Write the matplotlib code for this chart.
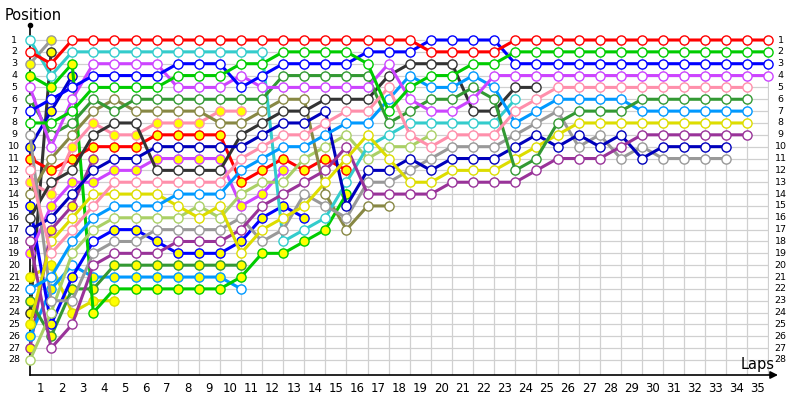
import matplotlib
matplotlib.use("Agg")
import matplotlib.pyplot as plt

# ── Lap chart data: position after each lap (index 0 = grid) ──
red_pos = [2, 3] + [1] * 17 + [2] * 4 + [1] * 13
cyan_pos = [1, 4] + [2] * 10 + [18, 17, 16, 13, 10, 9] + [8] * 5 + [6]
blue_pos = [7, 6, 5, 4, 4, 4, 4, 3, 3, 3, 5, 4, 3, 3, 3, 3, 2, 2, 2, 1, 1, 1, 1] + [3] * 13
green_pos = [8, 8, 7, 5, 5, 5, 5, 4, 4, 4, 3, 3, 2, 2, 2, 2, 3, 7, 5, 4, 4, 3, 3] + [2] * 13
violet_pos = [5, 10, 6, 3, 3, 3, 3, 5, 5, 5, 4, 5, 5, 5, 5, 5, 5, 3, 6, 7, 7, 6] + [4] * 14
dkgreen_pos = [6, 9, 8, 6, 7, 6, 6, 6, 6, 6, 6, 6, 4, 4, 4, 4, 4, 8, 7, 6, 6, 5, 6,
               12, 11, 8, 7, 7, 7] + [6] * 6
olive_pos = [14, 11, 9, 7, 6, 7, 7, 7, 7, 8, 8, 7, 6, 6, 14, 17, 15, 15]
pink1_pos = [13, 14, 10, 8, 9, 9, 8, 8, 8, 7, 7]
pink2_pos = [12, 19, 17, 15, 13, 13, 13, 13, 13, 13, 11, 10, 9, 9, 8, 7, 7, 5, 9, 10,
             9, 9, 9, 7, 6] + [5] * 10
dkgray_pos = [16, 13, 12, 9, 8, 8, 12, 12, 12, 12, 9, 8, 7, 7, 6, 6, 6, 4, 3, 3, 3,
              7, 7, 5, 5]
red2_pos = [11, 12, 11, 10, 10, 10, 9, 9, 9, 9, 13, 12, 11, 12, 11, 12]
navy_pos = [17, 16, 14, 12, 11, 11, 10, 10, 10, 10, 10, 9, 8, 8, 7, 15, 12, 12, 11,
            12, 11, 11, 11, 10, 9, 10, 9, 10, 9, 11] + [10] * 4
ltblue_pos = [22, 21, 18, 16, 15, 15, 15, 14, 14, 14, 12, 11, 10, 10, 9, 8, 8, 6, 4,
              5, 5, 4, 5, 8, 7, 6, 6, 6, 6] + [7] * 6
yellow_pos = [25, 18, 16, 14, 14, 14, 14, 15, 16, 15, 19, 17, 16, 15, 13, 11, 9, 11,
              13, 13, 12, 12, 12, 11, 10, 9] + [8] * 9
ltgreen_pos = [28, 24, 19, 17, 16, 16, 16, 16, 15, 16, 14, 13, 13, 11, 10, 9, 11, 10,
               10, 9]
gray_pos = [9, 23, 23, 19, 18, 18, 17, 17, 17, 17, 16, 18, 17, 14, 15, 16, 13, 13, 12,
            11, 10, 10, 10, 9, 8, 7, 10, 9, 11, 10] + [11] * 4
purple_pos = [18, 27, 25, 20, 19, 19, 19, 18, 18, 18, 17, 15, 14, 13, 12, 10, 14, 14,
              14, 14, 13, 13, 13, 13, 12, 11, 11, 11, 10] + [9] * 6
green2_pos = [4, 5, 3, 24, 22, 22, 22, 22, 22, 22, 21, 19, 19, 18, 17, 14]
blue2_pos = [15, 25, 21, 18, 17, 17, 18, 19, 19, 19, 18, 16, 15, 16]
dkgreen2_pos = [23, 26, 22, 22, 20, 20, 20, 20, 20, 20, 20]
ltblue2_pos = [26, 22, 20, 21, 21, 21, 21, 21, 21, 21, 22]
violet2_pos = [19, 15, 13, 13, 12, 12, 11, 11, 11, 11, 15, 14, 12]
yellow2_pos = [21, 20, 24, 23, 23]
purple2_pos = [27, 17, 15, 11]
gray2_pos = [3, 1]
dkgray2_pos = [24, 2]
blue3_pos = [10, 7, 4]

# laps drawn with a yellow marker (pit / penalty laps)
red2_pits = list(range(16))
pink1_pits = list(range(11))
green2_pits = list(range(16))
blue2_pits = [0, 1, 2, 4, 5, 6, 7, 8, 9, 10, 11, 12, 13]
dkgreen2_pits = list(range(11))
ltblue2_pits = [0, 1, 3, 4, 5, 6, 7, 8, 9]
violet2_pits = list(range(13))
yellow2_pits = list(range(5))
purple2_pits = list(range(4))
gray2_pits = [0, 1]
dkgray2_pits = [0, 1]
blue3_pits = [0, 1, 2]
yellow_pits = [0]

# (positions, colour, yellow laps) - drawn back to front
DRIVERS = [
    (dkgray2_pos, "#333333", dkgray2_pits),
    (gray2_pos, "#999999", gray2_pits),
    (blue3_pos, "#0000cc", blue3_pits),
    (purple2_pos, "#993399", purple2_pits),
    (yellow2_pos, "#dddd00", yellow2_pits),
    (ltblue2_pos, "#0099ff", ltblue2_pits),
    (dkgreen2_pos, "#339933", dkgreen2_pits),
    (blue2_pos, "#0000ff", blue2_pits),
    (green2_pos, "#00cc00", green2_pits),
    (violet2_pos, "#cc44ff", violet2_pits),
    (red2_pos, "#ff0000", red2_pits),
    (pink1_pos, "#ff8fab", pink1_pits),
    (ltgreen_pos, "#aad066", []),
    (olive_pos, "#888844", []),
    (cyan_pos, "#33cccc", []),
    (dkgray_pos, "#333333", []),
    (gray_pos, "#999999", []),
    (navy_pos, "#0000bb", []),
    (purple_pos, "#993399", []),
    (yellow_pos, "#dddd00", yellow_pits),
    (ltblue_pos, "#0099ff", []),
    (dkgreen_pos, "#339933", []),
    (pink2_pos, "#ff8fab", []),
    (violet_pos, "#cc44ff", []),
    (blue_pos, "#0000ff", []),
    (green_pos, "#00cc00", []),
    (red_pos, "#ff0000", []),
]

N_LAPS = 35
N_POS = 28

# ── Figure ────────────────────────────────────────────────────
fig = plt.figure(figsize=(8, 4), dpi=100)
fig.patch.set_facecolor("white")
ax = fig.add_axes([30 / 800, 25 / 400, 738.5 / 800, 350 / 400])
y_bottom = N_POS + 15 / 11.85
y_top = 1 - 15 / 11.85
ax.set_xlim(0, N_LAPS)
ax.set_ylim(y_bottom, y_top)
ax.axis("off")

# grid
ax.hlines(range(1, N_POS + 1), 0, N_LAPS, color="#d0d0d0", lw=0.9, zorder=0)
ax.vlines(range(1, N_LAPS + 1), 1, y_bottom, color="#d0d0d0", lw=0.9, zorder=0)

# axes with arrow
ax.plot([0, 0], [y_top, y_bottom], color="black", lw=1.2, clip_on=False, zorder=1)
ax.plot([0], [y_top], "o", color="black", ms=3, clip_on=False, zorder=1)
ax.annotate("", xy=(35.45, y_bottom), xytext=(0, y_bottom),
            arrowprops=dict(arrowstyle="-|>", color="black", lw=1.2,
                            mutation_scale=11, shrinkA=0, shrinkB=0),
            annotation_clip=False, zorder=1)

# driver lines
for z, (pos, col, pits) in enumerate(DRIVERS):
    laps = list(range(len(pos)))
    ax.plot(laps, pos, color=col, lw=2.2, zorder=2 + z, clip_on=False,
            solid_joinstyle="round")
    white = [l for l in laps if l not in pits]
    yel = [l for l in laps if l in pits]
    ax.plot(white, [pos[l] for l in white], "o", ms=6.6, mfc="white", mec=col,
            mew=1.0, zorder=2 + z, clip_on=False, ls="none")
    if yel:
        ax.plot(yel, [pos[l] for l in yel], "o", ms=6.6, mfc="#ffff00", mec=col,
                mew=1.0, zorder=2 + z, clip_on=False, ls="none")

# tick labels
for p in range(1, N_POS + 1):
    ax.text(-16 / 21.1, p, str(p), ha="center", va="center", fontsize=6.8,
            clip_on=False)
    ax.text(N_LAPS + 12 / 21.1, p, str(p), ha="center", va="center", fontsize=6.8,
            clip_on=False)
for l in range(1, N_LAPS + 1):
    ax.text(l - 0.5, y_bottom + 13 / 11.85, str(l), ha="center", va="center",
            fontsize=8.5, clip_on=False)

fig.text(5 / 800, 1 - 15 / 400, "Position", ha="left", va="center", fontsize=10.5)
fig.text(775 / 800, 1 - 364 / 400, "Laps", ha="right", va="center", fontsize=10.5)

fig.savefig("out.png", dpi=100)
